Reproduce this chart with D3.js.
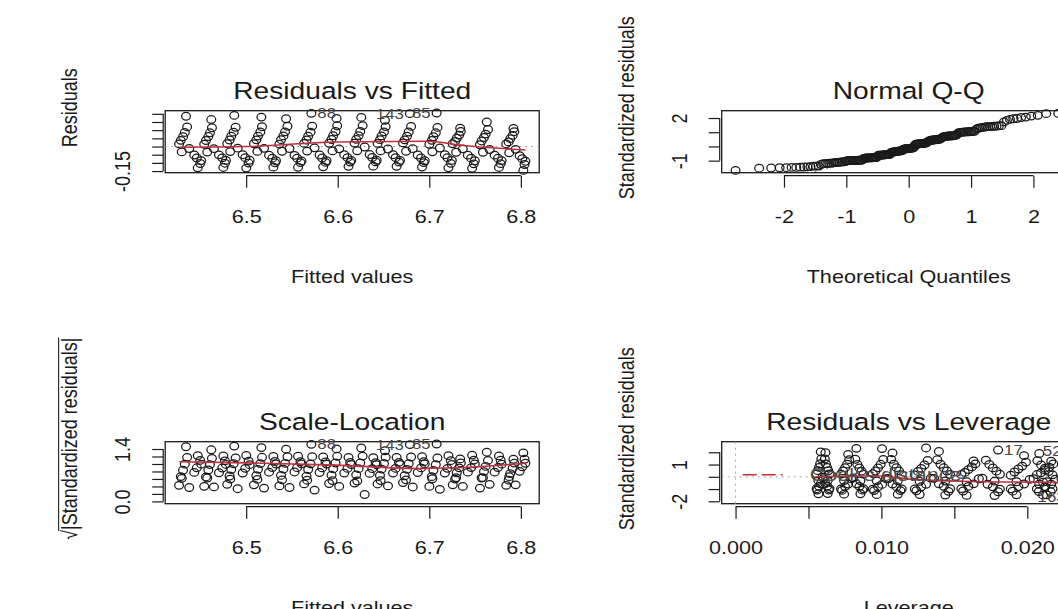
<!DOCTYPE html>
<html>
<head>
<meta charset="utf-8">
<script src="https://d3js.org/d3.v7.min.js"></script>
<style>
  body { margin: 0; background: #fff; }
  svg { display: block; }
  text { font-family: "Liberation Sans", Arial, sans-serif; }
</style>
</head>
<body>
<svg id="chart" width="1058" height="609"></svg>
<script>
// lm diagnostics: one row per observation, grouped in the 14 visible clusters
var fitted = [
  6.4343, 6.4355, 6.4330, 6.4311, 6.4286, 6.4267, 6.4378, 6.4297, 6.4433, 6.4461, 6.4509, 6.4471, 6.4498,
  6.4619, 6.4626, 6.4604, 6.4587, 6.4561, 6.4542, 6.4648, 6.4575, 6.4703, 6.4739, 6.4779, 6.4751, 6.4768,
  6.4870, 6.4885, 6.4863, 6.4837, 6.4819, 6.4793, 6.4907, 6.4826, 6.4962, 6.4990, 6.5038, 6.5001, 6.5027,
  6.5166, 6.5173, 6.5155, 6.5129, 6.5111, 6.5085, 6.5195, 6.5122, 6.5250, 6.5286, 6.5326, 6.5297, 6.5315,
  6.5436, 6.5451, 6.5425, 6.5407, 6.5381, 6.5363, 6.5473, 6.5392, 6.5528, 6.5556, 6.5604, 6.5567, 6.5593,
  6.5712, 6.5721, 6.5703, 6.5677, 6.5659, 6.5633, 6.5747, 6.5666, 6.5802, 6.5830, 6.5878, 6.5841, 6.5867,
  6.5987, 6.5994, 6.5976, 6.5950, 6.5932, 6.5906, 6.6016, 6.5943, 6.6071, 6.6107, 6.6147, 6.6118, 6.6136,
  6.6257, 6.6272, 6.6246, 6.6228, 6.6202, 6.6184, 6.6294, 6.6213, 6.6349, 6.6377, 6.6425, 6.6388, 6.6414,
  6.6516, 6.6523, 6.6505, 6.6479, 6.6461, 6.6435, 6.6549, 6.6468, 6.6604, 6.6632, 6.6680, 6.6643, 6.6669,
  6.6788, 6.6801, 6.6775, 6.6757, 6.6731, 6.6713, 6.6819, 6.6746, 6.6874, 6.6910, 6.6950, 6.6921, 6.6939,
  6.7080, 6.7089, 6.7071, 6.7045, 6.7027, 6.7001, 6.7115, 6.7034, 6.7170, 6.7198, 6.7246, 6.7209, 6.7235,
  6.7337, 6.7344, 6.7326, 6.7300, 6.7282, 6.7256, 6.7366, 6.7293, 6.7421, 6.7457, 6.7497, 6.7468, 6.7486,
  6.7628, 6.7641, 6.7615, 6.7597, 6.7571, 6.7553, 6.7659, 6.7586, 6.7714, 6.7750, 6.7790, 6.7761, 6.7779,
  6.7919, 6.7928, 6.7910, 6.7884, 6.7866, 6.7840, 6.7943, 6.7873, 6.7987, 6.8016, 6.8049, 6.8027, 6.8040
];
var resid = [
  0.185, 0.120, 0.086, 0.060, 0.038, 0.016, -0.012, -0.033, -0.052, -0.070, -0.086, -0.130, -0.104,
  0.165, 0.115, 0.084, 0.061, 0.037, 0.014, -0.013, -0.034, -0.051, -0.069, -0.085, -0.128, -0.102,
  0.190, 0.118, 0.088, 0.063, 0.040, 0.018, -0.010, -0.031, -0.050, -0.068, -0.084, -0.132, -0.101,
  0.180, 0.121, 0.089, 0.064, 0.041, 0.017, -0.011, -0.030, -0.053, -0.071, -0.087, -0.126, -0.099,
  0.170, 0.124, 0.090, 0.065, 0.042, 0.015, -0.012, -0.029, -0.054, -0.071, -0.088, -0.127, -0.098,
  0.203, 0.125, 0.088, 0.063, 0.040, 0.019, -0.008, -0.028, -0.052, -0.070, -0.087, -0.124, -0.097,
  0.172, 0.127, 0.092, 0.066, 0.043, 0.020, -0.014, -0.027, -0.050, -0.068, -0.085, -0.121, -0.095,
  0.178, 0.128, 0.093, 0.067, 0.044, 0.021, -0.003, -0.026, -0.049, -0.067, -0.084, -0.120, -0.094,
  0.160, 0.122, 0.090, 0.065, 0.042, 0.019, -0.015, -0.027, -0.050, -0.068, -0.085, -0.121, -0.095,
  0.201, 0.123, 0.089, 0.064, 0.041, 0.022, -0.013, -0.029, -0.052, -0.070, -0.087, -0.125, -0.098,
  0.205, 0.117, 0.084, 0.060, 0.038, 0.014, -0.009, -0.032, -0.050, -0.068, -0.085, -0.130, -0.103,
  0.112, 0.092, 0.070, 0.051, 0.031, 0.017, -0.014, -0.035, -0.053, -0.071, -0.087, -0.133, -0.106,
  0.150, 0.104, 0.076, 0.055, 0.034, 0.011, -0.018, -0.035, -0.053, -0.071, -0.086, -0.128, -0.105,
  0.110, 0.091, 0.068, 0.048, 0.028, 0.016, -0.017, -0.038, -0.056, -0.074, -0.090, -0.146, -0.110
];
var leverage = [
  0.02276, 0.02262, 0.02290, 0.02318, 0.02346, 0.02374, 0.02234, 0.02332, 0.02164, 0.02122, 0.02066, 0.02108, 0.02080,
  0.02082, 0.02069, 0.02095, 0.02121, 0.02147, 0.02173, 0.02043, 0.02134, 0.01978, 0.01939, 0.01887, 0.01926, 0.01900,
  0.01800, 0.01716, 0.01740, 0.01764, 0.01788, 0.01812, 0.01692, 0.01776, 0.01632, 0.01596, 0.01548, 0.01584, 0.01560,
  0.01394, 0.01383, 0.01405, 0.01427, 0.01449, 0.01471, 0.01361, 0.01438, 0.01306, 0.01273, 0.01229, 0.01262, 0.01240,
  0.01076, 0.01067, 0.01085, 0.01103, 0.01121, 0.01139, 0.01049, 0.01112, 0.01004, 0.00977, 0.00941, 0.00968, 0.00950,
  0.00828, 0.00821, 0.00835, 0.00849, 0.00863, 0.00877, 0.00807, 0.00856, 0.00772, 0.00751, 0.00723, 0.00744, 0.00730,
  0.00616, 0.00612, 0.00620, 0.00628, 0.00636, 0.00644, 0.00604, 0.00632, 0.00584, 0.00572, 0.00556, 0.00568, 0.00560,
  0.00584, 0.00588, 0.00580, 0.00572, 0.00564, 0.00556, 0.00596, 0.00568, 0.00616, 0.00628, 0.00644, 0.00632, 0.00640,
  0.00772, 0.00779, 0.00765, 0.00751, 0.00737, 0.00723, 0.00793, 0.00744, 0.00828, 0.00849, 0.00877, 0.00856, 0.00870,
  0.01004, 0.01013, 0.00995, 0.00977, 0.00959, 0.00941, 0.01031, 0.00968, 0.01076, 0.01103, 0.01139, 0.01112, 0.01130,
  0.01306, 0.01317, 0.01295, 0.01273, 0.01251, 0.01229, 0.01339, 0.01262, 0.01394, 0.01427, 0.01471, 0.01438, 0.01460,
  0.01632, 0.01644, 0.01620, 0.01596, 0.01572, 0.01548, 0.01668, 0.01584, 0.01728, 0.01764, 0.01812, 0.01776, 0.01800,
  0.01978, 0.01991, 0.01965, 0.01939, 0.01913, 0.01887, 0.02017, 0.01926, 0.02082, 0.02121, 0.02173, 0.02134, 0.02160,
  0.02164, 0.02178, 0.02150, 0.02122, 0.02094, 0.02066, 0.02192, 0.02108, 0.02248, 0.02290, 0.02332, 0.02304, 0.02318
];

// row names of the flagged observations (array index -> label)
var rowNames = {0: "52", 26: "17", 65: "88", 117: "143", 130: "85", 180: "163"};
var idResid = [65, 117, 130];     // largest residuals (plots 1 and 3)
var idCook = [0, 26, 180];        // largest Cook's distance (plot 4)

// red smoothers
var smoothFit = [[6.427, -0.004], [6.50, 0.000], [6.598, 0.028], [6.697, 0.032], [6.737, 0.006], [6.805, -0.021]];
var smoothScale = [[6.427, 1.06], [6.50, 1.03], [6.598, 0.97], [6.69, 0.88], [6.75, 0.92], [6.805, 1.02]];
var smoothLev = [[0.0055, 0.0], [0.0097, 0.08], [0.0115, -0.15], [0.016, -0.38], [0.0218, -0.45], [0.0237, -0.47]];

// tick values and their printed labels ("" = tick without label)
var fitTicks = [6.5, 6.6, 6.7, 6.8], fitText = ["6.5", "6.6", "6.7", "6.8"];
var resTicks = [-0.15, -0.10, -0.05, 0, 0.05, 0.10, 0.15, 0.20], resText = ["-0.15", "", "", "", "", "", "", ""];
var qTicks = [-2, -1, 0, 1, 2], qText = ["-2", "-1", "0", "1", "2"];
var sTicks = [-1, 0, 1, 2], sText = ["-1", "", "", "2"];
var slTicks = [0, 0.2, 0.4, 0.6, 0.8, 1.0, 1.2, 1.4], slText = ["0.0", "", "", "", "", "", "", "1.4"];
var levTicks = [0, 0.005, 0.010, 0.015, 0.020], levText = ["0.000", "", "0.010", "", "0.020"];
var rsTicks = [-2, -1, 0, 1, 2], rsText = ["-2", "", "", "1", ""];

var INK = "#1a1a1a", RED = "#c0303a", GREY = "#a6a6a6";
var SX = 1.2, FS = 18, FT = 23.5;   // the picture is wider than tall: glyphs stretched sideways
var YLAB_SHIFT = -34;               // axis titles sit above the box centre in the picture
var svg = d3.select("#chart");

function qnorm(p) {
  var a = [-39.69683028665376, 220.9460984245205, -275.9285104469687, 138.3577518672690, -30.66479806614716, 2.506628277459239],
      b = [-54.47609879822406, 161.5858368580409, -155.6989798598866, 66.80131188771972, -13.28068155288572],
      c = [-0.007784894002430293, -0.3223964580411365, -2.400758277161838, -2.549732539343734, 4.374664141464968, 2.938163982698783],
      d = [0.007784695709041462, 0.3224671290700398, 2.445134137142996, 3.754408661907416];
  var q, r;
  if (p < 0.02425) {
    q = Math.sqrt(-2 * Math.log(p));
    return (((((c[0]*q+c[1])*q+c[2])*q+c[3])*q+c[4])*q+c[5]) / ((((d[0]*q+d[1])*q+d[2])*q+d[3])*q+1);
  }
  if (p > 1 - 0.02425) return -qnorm(1 - p);
  q = p - 0.5; r = q * q;
  return (((((a[0]*r+a[1])*r+a[2])*r+a[3])*r+a[4])*r+a[5])*q / (((((b[0]*r+b[1])*r+b[2])*r+b[3])*r+b[4])*r+1);
}

var n = fitted.length, p = 2;
var sigma = Math.sqrt(d3.sum(resid, function(r) { return r * r; }) / (n - p));
var stdRes = resid.map(function(r, i) { return r / (sigma * Math.sqrt(1 - leverage[i])); });
var sqrtRes = stdRes.map(function(v) { return Math.sqrt(Math.abs(v)); });
var order = d3.range(n).sort(function(a, b) { return stdRes[a] - stdRes[b]; });
var theo = [];
order.forEach(function(idx, k) { theo[idx] = qnorm((k + 0.5) / n); });

function widen(e, f) { var d = (e[1] - e[0]) * f; return [e[0] - d, e[1] + d]; }

function panel(id, b, xDom, yDom, o) {
  var x = d3.scaleLinear().domain(xDom).range([b.x, b.x + b.w]),
      y = d3.scaleLinear().domain(yDom).range([b.y + b.h, b.y]);
  var g = svg.append("g");
  g.append("clipPath").attr("id", id).append("rect")
    .attr("x", b.x).attr("y", b.y).attr("width", b.w).attr("height", b.h);

  var xa = g.append("g").attr("transform", "translate(0," + (b.y + b.h + 3) + ")")
    .call(d3.axisBottom(x).tickValues(o.xTicks).tickSize(12).tickSizeOuter(0)
      .tickFormat(function(d, i) { return o.xText[i]; }));
  xa.select(".domain").attr("d", "M" + x(o.xTicks[0]) + ",0H" + x(o.xTicks[o.xTicks.length - 1]));
  xa.selectAll(".tick text").attr("y", 47).attr("dy", 0).attr("transform", "scale(" + SX + ",1)");

  var ya = g.append("g").attr("transform", "translate(" + (b.x - 2) + ",0)")
    .call(d3.axisLeft(y).tickValues(o.yTicks).tickSize(11).tickSizeOuter(0)
      .tickFormat(function(d, i) { return o.yText[i]; }));
  ya.select(".domain").attr("d", "M0," + y(o.yTicks[0]) + "V" + y(o.yTicks[o.yTicks.length - 1]));
  ya.selectAll(".tick text").attr("x", 0).attr("y", -33 / SX).attr("dy", 0)
    .attr("text-anchor", "middle").attr("transform", "rotate(-90) scale(1," + SX + ")");

  [xa, ya].forEach(function(a) {
    a.attr("font-size", FS).attr("font-family", null).attr("color", INK);
    a.selectAll("line, path").attr("stroke-width", 1.2);
  });

  g.append("rect").attr("x", b.x).attr("y", b.y).attr("width", b.w).attr("height", b.h)
    .attr("fill", "none").attr("stroke", INK).attr("stroke-width", 1.3);

  g.append("text").attr("transform", "translate(" + (b.x + b.w / 2) + "," + (b.y - 12) + ") scale(" + SX + ",1)")
    .attr("text-anchor", "middle").attr("font-size", FT).attr("fill", INK).text(o.title);
  g.append("text").attr("transform", "translate(" + (b.x + b.w / 2) + "," + (b.y + b.h + 110) + ") scale(" + SX + ",1)")
    .attr("text-anchor", "middle").attr("font-size", FS).attr("fill", INK).text(o.xlab);
  if (o.ylab) {
    g.append("text")
      .attr("transform", "translate(" + (b.x - 88) + "," + (b.y + b.h / 2 + YLAB_SHIFT) + ") rotate(-90) scale(1," + SX + ")")
      .attr("text-anchor", "middle").attr("font-size", FS).attr("fill", INK).text(o.ylab);
  }
  return {x: x, y: y, g: g, clip: "url(#" + id + ")"};
}

function points(P, xs, ys) {
  P.g.append("g").selectAll("ellipse").data(d3.range(n)).enter().append("ellipse")
    .attr("cx", function(i) { return P.x(xs[i]); })
    .attr("cy", function(i) { return P.y(ys[i]); })
    .attr("rx", 4.4).attr("ry", 3.8).attr("fill", "none").attr("stroke", INK).attr("stroke-width", 1.25);
}

function smoother(P, pts) {
  var line = d3.line().x(function(d) { return P.x(d[0]); }).y(function(d) { return P.y(d[1]); })
    .curve(d3.curveMonotoneX);
  P.g.append("path").attr("d", line(pts)).attr("fill", "none").attr("stroke", RED).attr("stroke-width", 1.6);
}

function hline(P, v, dash) {
  var d = P.x.domain();
  P.g.append("line").attr("x1", P.x(d[0])).attr("x2", P.x(d[1])).attr("y1", P.y(v)).attr("y2", P.y(v))
    .attr("stroke", GREY).attr("stroke-dasharray", dash).attr("clip-path", P.clip);
}

function idLabels(P, ids, xs, ys) {
  var xr = d3.extent(ids, function(i) { return xs[i]; }), mid = (xr[0] + xr[1]) / 2;
  ids.forEach(function(i) {
    var right = !(xs[i] > mid), px = P.x(xs[i]), py = P.y(ys[i]);
    P.g.append("text")
      .attr("transform", "translate(" + (right ? px + 6 : px - 6) + "," + py + ") scale(" + SX + ",1)")
      .attr("dy", "0.36em").attr("text-anchor", right ? "start" : "end")
      .attr("font-size", 14).attr("fill", "#444")
      .text(rowNames[i] !== undefined ? rowNames[i] : String(i + 1));
  });
}

var boxes = {
  rf: {x: 165.2, y: 110.7, w: 374, h: 62},
  qq: {x: 721.7, y: 110.7, w: 374, h: 62},
  sl: {x: 165.2, y: 441.7, w: 374, h: 62},
  rl: {x: 721.7, y: 441.7, w: 374, h: 62}
};

// 1. Residuals vs Fitted
var P1 = panel("c1", boxes.rf, widen(d3.extent(fitted), 0.04), widen(d3.extent(resid), 0.04),
  {xTicks: fitTicks, xText: fitText, yTicks: resTicks, yText: resText,
   title: "Residuals vs Fitted", xlab: "Fitted values", ylab: "Residuals"});
hline(P1, 0, "2,4");
points(P1, fitted, resid);
smoother(P1, smoothFit);
idLabels(P1, idResid, fitted, resid);

// 2. Normal Q-Q (its id labels fall right of the visible area)
var P2 = panel("c2", boxes.qq, widen(d3.extent(theo), 0.04), widen(d3.extent(stdRes), 0.04),
  {xTicks: qTicks, xText: qText, yTicks: sTicks, yText: sText,
   title: "Normal Q-Q", xlab: "Theoretical Quantiles", ylab: "Standardized residuals"});
var sorted = order.map(function(i) { return stdRes[i]; });
var y1 = d3.quantileSorted(sorted, 0.25), y3 = d3.quantileSorted(sorted, 0.75);
var x1 = qnorm(0.25), x3 = qnorm(0.75), slope = (y3 - y1) / (x3 - x1), icpt = y1 - slope * x1;
var qd = P2.x.domain();
P2.g.append("line").attr("x1", P2.x(qd[0])).attr("x2", P2.x(qd[1]))
  .attr("y1", P2.y(icpt + slope * qd[0])).attr("y2", P2.y(icpt + slope * qd[1]))
  .attr("stroke", "#7f7f7f").attr("stroke-dasharray", "2,4").attr("clip-path", P2.clip);
points(P2, theo, stdRes);

// 3. Scale-Location
var P3 = panel("c3", boxes.sl, widen(d3.extent(fitted), 0.04), widen([0, d3.max(sqrtRes)], 0.04),
  {xTicks: fitTicks, xText: fitText, yTicks: slTicks, yText: slText,
   title: "Scale-Location", xlab: "Fitted values", ylab: null});
points(P3, fitted, sqrtRes);
smoother(P3, smoothScale);
idLabels(P3, idResid, fitted, sqrtRes);
(function() {
  var b = boxes.sl;
  var t = P3.g.append("g")
    .attr("transform", "translate(" + (b.x - 88) + "," + (b.y + b.h / 2 + YLAB_SHIFT) + ") rotate(-90) scale(1," + SX + ")");
  var txt = t.append("text").attr("text-anchor", "middle").attr("font-size", FS).attr("fill", INK);
  txt.append("tspan").text("\u221A");
  txt.append("tspan").text("|Standardized residuals|");
  var total = txt.node().getComputedTextLength(), rad = txt.node().getSubStringLength(0, 1);
  t.append("line").attr("x1", -total / 2 + rad - 1).attr("x2", total / 2)
    .attr("y1", -FS * 0.86).attr("y2", -FS * 0.86).attr("stroke", INK).attr("stroke-width", 0.9);
})();

// 4. Residuals vs Leverage
var P4 = panel("c4", boxes.rl, widen([0, d3.max(leverage)], 0.04), widen(widen(d3.extent(stdRes), 0.08), 0.04),
  {xTicks: levTicks, xText: levText, yTicks: rsTicks, yText: rsText,
   title: "Residuals vs Leverage", xlab: "Leverage", ylab: "Standardized residuals"});
hline(P4, 0, "2,4");
P4.g.append("line").attr("x1", P4.x(0)).attr("x2", P4.x(0)).attr("y1", boxes.rl.y).attr("y2", boxes.rl.y + boxes.rl.h)
  .attr("stroke", GREY).attr("stroke-dasharray", "2,4");
points(P4, leverage, stdRes);
smoother(P4, smoothLev);
idLabels(P4, idCook, leverage, stdRes);
// legend, bottom-left of the panel
var ly = boxes.rl.y + boxes.rl.h - 29;
P4.g.append("line").attr("x1", boxes.rl.x + 21).attr("x2", boxes.rl.x + 61).attr("y1", ly).attr("y2", ly)
  .attr("stroke", RED).attr("stroke-width", 1.4).attr("stroke-dasharray", "14,5");
P4.g.append("text").attr("transform", "translate(" + (boxes.rl.x + 88) + "," + (ly + 6) + ") scale(" + SX + ",1)")
  .attr("font-size", FS).attr("fill", "#4d4d4d").text("Cook's distance");
</script>
</body>
</html>
